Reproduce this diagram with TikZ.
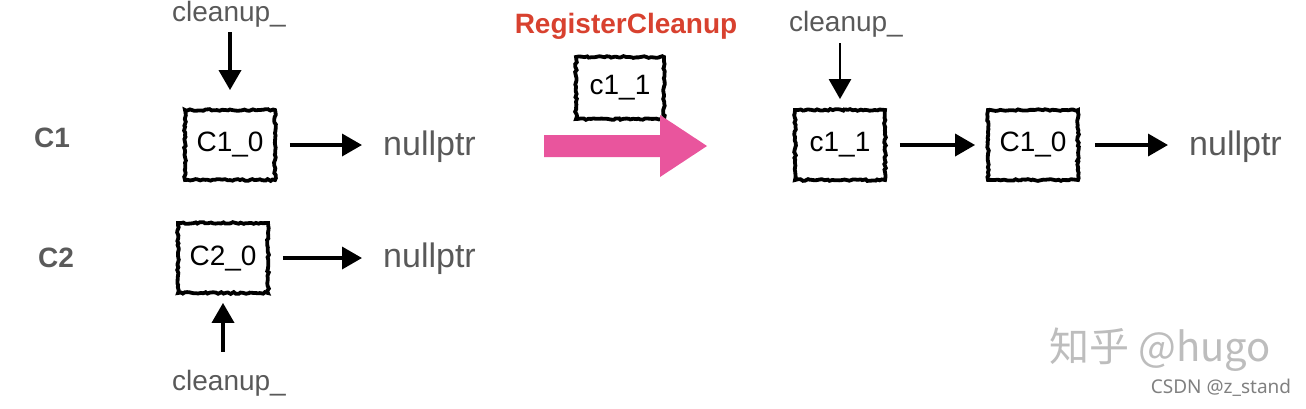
\documentclass[tikz,border=0pt]{standalone}
\usepackage{fontspec}
\setmainfont{Liberation Sans}
\newfontfamily\cjk{Noto Sans CJK SC}
\newfontfamily\notos{Noto Sans}
\usetikzlibrary{arrows.meta,decorations.pathmorphing,calc}
\definecolor{txtgray}{HTML}{595959}
\definecolor{lblgray}{HTML}{5A5A5A}
\definecolor{regred}{HTML}{D8412F}
\definecolor{pinkarr}{HTML}{E9559D}
\definecolor{wmgray}{HTML}{BDBDBD}
\pgfmathsetseed{7}
\tikzset{
  sketchbox/.style={draw=black, line width=3.8pt, minimum width=90pt, minimum height=70pt,
    inner sep=0pt, font=\fontsize{28}{32}\selectfont,
    decorate, decoration={random steps, segment length=2.5pt, amplitude=0.9pt}},
  gtext/.style={text=txtgray, inner sep=0pt},
  cleanlbl/.style={gtext, font=\fontsize{28}{32}\selectfont},
  nulllbl/.style={gtext, font=\fontsize{34}{38}\selectfont, anchor=west},
  rowlbl/.style={text=lblgray, inner sep=0pt, font=\bfseries\fontsize{28}{30}\selectfont},
  arr/.style={line width=3.6pt, -{Triangle[width=22pt,length=20pt]}},
}
\begin{document}
\begin{tikzpicture}[x=1pt,y=-1pt]
\useasboundingbox (0,0) rectangle (1306,408);
% row labels
\node[rowlbl] (lc1) at (52,138) {C1};
\node[rowlbl] (lc2) at (56,258) {C2};
% left part
\node[cleanlbl] (cl1) at (229,14) {cleanup\_};
\node[sketchbox] (b10) at (230,145) {C1\_0};
\node[nulllbl] (n1) at (383,147) {nullptr};
\draw[arr, shorten <=5pt, shorten >=18pt] (cl1.south -| b10.north) -- (b10.north);
\draw[arr, shorten <=13pt, shorten >=21pt] (b10.east) -- (b10.east -| n1.west);

\node[sketchbox] (b20) at (223,258) {C2\_0};
\node[nulllbl] (n2) at (383,259) {nullptr};
\node[cleanlbl] (cl2) at (229,383) {cleanup\_};
\draw[arr, shorten <=13pt, shorten >=21pt] (b20.east) -- (b20.east -| n2.west);
\draw[arr, shorten <=18pt, shorten >=8pt] (cl2.north -| b20.south) -- (b20.south);

% middle
\node[text=regred, inner sep=0pt, font=\bfseries\fontsize{28}{30}\selectfont] (reg) at (626,26) {RegisterCleanup};
\node[sketchbox, minimum width=88pt, minimum height=62pt] (bf) at (620,88) {c1\_1};
\fill[pinkarr] (544,135) -- (660,135) -- (660,115) -- (707,146) -- (660,177) -- (660,157) -- (544,157) -- cycle;

% right part
\node[cleanlbl] (cl3) at (846,24) {cleanup\_};
\node[sketchbox] (b11) at (840,145) {c1\_1};
\node[sketchbox] (b30) at (1033,145) {C1\_0};
\node[nulllbl] (n3) at (1189,147) {nullptr};
\draw[arr, line width=2.6pt, shorten <=6pt, shorten >=9pt] (cl3.south -| b11.north) -- (b11.north);
\draw[arr, shorten <=13pt, shorten >=11pt] (b11.east) -- (b30.west);
\draw[arr, shorten <=15pt, shorten >=21pt] (b30.east) -- (b30.east -| n3.west);

% watermarks
\node[text=wmgray, inner sep=0pt, font=\cjk\fontsize{40}{44}\selectfont] (wm1) at (1160,350) {知乎 @hugo};
\node[text=gray, inner sep=0pt, font=\notos\fontsize{19}{22}\selectfont] (wm2) at (1221,388) {CSDN @z\_stand};
\end{tikzpicture}
\end{document}
